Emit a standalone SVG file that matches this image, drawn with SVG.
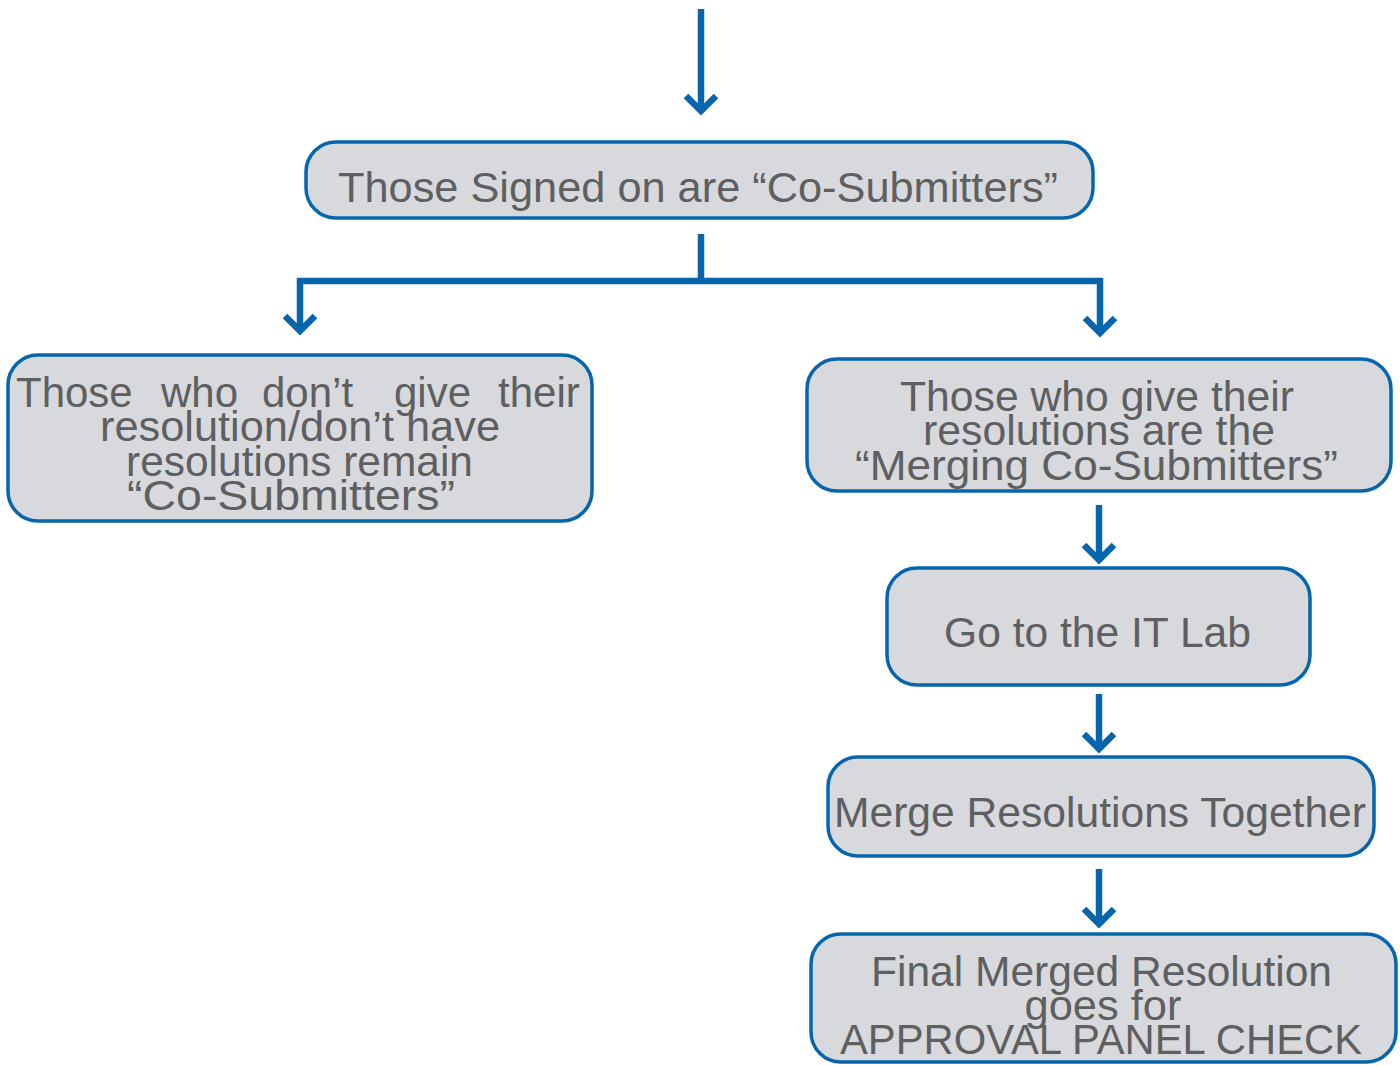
<svg xmlns="http://www.w3.org/2000/svg" width="1400" height="1066" viewBox="0 0 1400 1066">
<defs>
<style>
.box{fill:#d8d9dc;stroke:#0765ac;stroke-width:3.5}
.t{font-family:"Liberation Sans",Arial,Helvetica,sans-serif;font-size:42px;fill:#5e5f61;text-anchor:middle}
.tl{font-family:"Liberation Sans",Arial,Helvetica,sans-serif;font-size:42px;fill:#5e5f61}
.c{fill:none;stroke:#0765ac;stroke-width:6.5;stroke-linejoin:miter;stroke-linecap:butt}
</style>
</defs>
<rect width="1400" height="1066" fill="#ffffff"/>
<g id="connectors">
<path class="c" d="M701,9 V112"/>
<path class="c" d="M686,96 L701,111 L716,96"/>
<path class="c" d="M701,234 V281 M297,281 H1102 M300,278 V332 M1100,278 V334"/>
<path class="c" d="M285,316 L300,331 L315,316"/>
<path class="c" d="M1085,318 L1100,333 L1115,318"/>
<path class="c" d="M1099,505 V561"/>
<path class="c" d="M1084,545 L1099,560 L1114,545"/>
<path class="c" d="M1099,694 V750"/>
<path class="c" d="M1084,734 L1099,749 L1114,734"/>
<path class="c" d="M1099,869 V925"/>
<path class="c" d="M1084,909 L1099,924 L1114,909"/>
</g>
<g id="node-cosubmitters">
<rect class="box" x="306" y="142" width="787" height="76" rx="30"/>
<text class="t" x="698" y="202" textLength="720" lengthAdjust="spacingAndGlyphs">Those Signed on are “Co-Submitters”</text>
</g>
<g id="node-remain">
<rect class="box" x="8" y="355" width="584" height="166" rx="30"/>
<text class="tl" y="407"><tspan x="16">Those</tspan><tspan x="161">who</tspan><tspan x="262">don’t</tspan><tspan x="394">give</tspan><tspan x="498">their</tspan></text>
<text class="t" x="300" y="441" textLength="400" lengthAdjust="spacingAndGlyphs">resolution/don’t have</text>
<text class="t" x="299.5" y="476" textLength="347" lengthAdjust="spacingAndGlyphs">resolutions remain</text>
<text class="t" x="291" y="510" textLength="328" lengthAdjust="spacingAndGlyphs">“Co-Submitters”</text>
</g>
<g id="node-merging">
<rect class="box" x="807" y="359" width="584" height="132" rx="30"/>
<text class="t" x="1097" y="411" textLength="394" lengthAdjust="spacingAndGlyphs">Those who give their</text>
<text class="t" x="1099" y="445" textLength="352" lengthAdjust="spacingAndGlyphs">resolutions are the</text>
<text class="t" x="1096.5" y="480" textLength="483" lengthAdjust="spacingAndGlyphs">“Merging Co-Submitters”</text>
</g>
<g id="node-itlab">
<rect class="box" x="887" y="568" width="423" height="117" rx="30"/>
<text class="t" x="1097.5" y="647" textLength="307" lengthAdjust="spacingAndGlyphs">Go to the IT Lab</text>
</g>
<g id="node-merge">
<rect class="box" x="828" y="757" width="546" height="99" rx="30"/>
<text class="t" x="1100" y="827" textLength="532" lengthAdjust="spacingAndGlyphs">Merge Resolutions Together</text>
</g>
<g id="node-final">
<rect class="box" x="811" y="934" width="585" height="128" rx="30"/>
<text class="t" x="1101.5" y="986" textLength="461" lengthAdjust="spacingAndGlyphs">Final Merged Resolution</text>
<text class="t" x="1103" y="1020" textLength="157" lengthAdjust="spacingAndGlyphs">goes for</text>
<text class="t" x="1101" y="1054" textLength="522" lengthAdjust="spacingAndGlyphs">APPROVAL PANEL CHECK</text>
</g>
</svg>
